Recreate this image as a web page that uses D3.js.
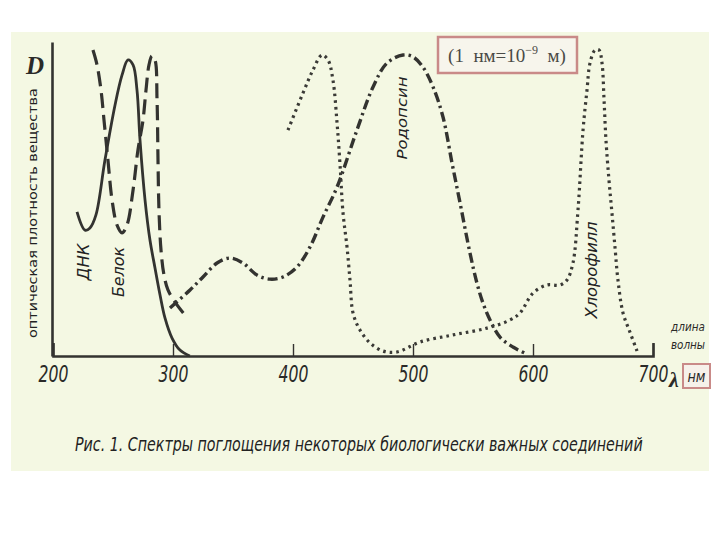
<!DOCTYPE html>
<html><head><meta charset="utf-8">
<script src="https://cdn.jsdelivr.net/npm/d3@7"></script>
<style>
html,body{margin:0;padding:0;background:#fff;}
svg{display:block;}
</style></head>
<body>
<script>
// ---- data (wavelength in nm, optical density in relative units) ----
const xTicks = [200, 300, 400, 500, 600, 700];

const dnaWavelength = [220, 226.7, 230.8, 235.8, 243.3, 251.7, 257.5, 262.5, 266.7, 270, 272.5, 276.7, 280.8, 285, 289.2, 293.3, 299.2, 305.8, 314];
const dnaDensity    = [0.465, 0.406, 0.413, 0.455, 0.632, 0.81, 0.906, 0.955, 0.939, 0.858, 0.697, 0.503, 0.374, 0.284, 0.197, 0.123, 0.058, 0.019, 0];

const proteinWavelength = [233.3, 236.7, 240, 242.5, 245.8, 249.2, 253.3, 257.5, 261.7, 266.7, 270.8, 275, 277.5, 280, 282.5, 285, 286.7, 287.5, 288.3, 290, 292.5, 295.8, 301.7, 310];
const proteinDensity    = [0.987, 0.939, 0.858, 0.761, 0.632, 0.503, 0.423, 0.397, 0.423, 0.535, 0.665, 0.761, 0.858, 0.939, 0.968, 0.955, 0.826, 0.632, 0.471, 0.342, 0.261, 0.213, 0.174, 0.132];

const rhodopsinWavelength = [297.5, 314.2, 325, 336.7, 347.5, 358.3, 370, 380.8, 391.7, 403.3, 414.2, 425, 436.7, 453.3, 466.7, 478.3, 491.7, 500, 508.3, 516.7, 525, 532.5, 539.2, 547.5, 553.3, 558.3, 564.2, 572.5, 583.3, 595];
const rhodopsinDensity    = [0.155, 0.213, 0.255, 0.3, 0.316, 0.3, 0.261, 0.248, 0.255, 0.287, 0.352, 0.448, 0.545, 0.729, 0.868, 0.945, 0.971, 0.965, 0.932, 0.868, 0.771, 0.623, 0.494, 0.332, 0.235, 0.171, 0.116, 0.061, 0.029, 0.006];

const chlorophyllWavelength = [395.8, 408.3, 416.7, 424.2, 429.2, 433.3, 436.7, 439.2, 441.7, 445, 447.5, 450, 455.8, 464.2, 475, 486.7, 505.8, 533.3, 561.7, 580.8, 589.2, 600, 611.7, 622.5, 628.3, 633.3, 637.5, 641.7, 645, 647.5, 651.7, 655, 657.5, 659.2, 660.8, 663.3, 665.8, 668.3, 670.8, 675, 680.8, 686.7];
const chlorophyllDensity    = [0.729, 0.848, 0.923, 0.971, 0.955, 0.89, 0.752, 0.616, 0.461, 0.352, 0.245, 0.139, 0.084, 0.042, 0.016, 0.013, 0.045, 0.068, 0.09, 0.116, 0.139, 0.203, 0.229, 0.229, 0.245, 0.3, 0.471, 0.729, 0.858, 0.945, 0.987, 0.987, 0.945, 0.826, 0.697, 0.568, 0.461, 0.352, 0.245, 0.139, 0.077, 0.016];

const curveLabels = ["ДНК", "Белок", "Родопсин", "Хлорофилл"];
const yTitle = "оптическая плотность вещества";
const captionText = "Рис. 1.  Спектры поглощения некоторых биологически важных соединений";

// ---- drawing ----
const W = 720, H = 540;
const ink = "#333330";
const svg = d3.select("body").append("svg").attr("width", W).attr("height", H);

svg.append("rect").attr("x", 11).attr("y", 32).attr("width", 698).attr("height", 439).attr("fill", "#f4f8e3");

const x = d3.scaleLinear().domain([200, 700]).range([53, 653]);
const y = d3.scaleLinear().domain([0, 1.013]).range([356, 42]);

const sans = "'DejaVu Sans','Liberation Sans',sans-serif";

// axes
const xAxis = d3.axisBottom(x).tickValues(xTicks).tickSizeInner(-12).tickSizeOuter(-13).tickPadding(9).tickFormat(d3.format("d"));
const gx = svg.append("g").attr("transform", `translate(0,${y(0)})`).call(xAxis);
gx.select(".domain").attr("stroke", ink).attr("stroke-width", 2.6);
gx.selectAll(".tick line").attr("stroke", ink).attr("stroke-width", 1.4);
gx.selectAll(".tick text").attr("font-family", sans).attr("font-style", "italic").attr("font-size", 23)
  .attr("fill", "#2a2a28").attr("dy", "0.75em").attr("transform", "scale(0.68,1)");

const yAxis = d3.axisLeft(y).tickValues([]).tickSizeOuter(0);
const gy = svg.append("g").attr("transform", `translate(${x(200) - 1},0)`).call(yAxis);
gy.select(".domain").attr("stroke", ink).attr("stroke-width", 2.6);

// curves
const line = d3.line().x(d => x(d[0])).y(d => y(d[1])).curve(d3.curveCatmullRom.alpha(0.5));
function series(w, v) { return w.map((d, i) => [d, v[i]]); }

svg.append("path").datum(series(dnaWavelength, dnaDensity)).attr("d", line)
  .attr("fill", "none").attr("stroke", ink).attr("stroke-width", 2.8);
svg.append("path").datum(series(proteinWavelength, proteinDensity)).attr("d", line)
  .attr("fill", "none").attr("stroke", ink).attr("stroke-width", 3.2).attr("stroke-dasharray", "15,7");
svg.append("path").datum(series(rhodopsinWavelength, rhodopsinDensity)).attr("d", line)
  .attr("fill", "none").attr("stroke", ink).attr("stroke-width", 3.4).attr("stroke-dasharray", "10,4,2.5,4");
svg.append("path").datum(series(chlorophyllWavelength, chlorophyllDensity)).attr("d", line)
  .attr("fill", "none").attr("stroke", "#3a3a36").attr("stroke-width", 3.2).attr("stroke-dasharray", "2.6,4");

// rotated labels
function vlabel(txt, cx, cy, size, opts) {
  const t = svg.append("text").attr("transform", `translate(${cx},${cy}) rotate(-90)`)
    .attr("text-anchor", "middle").attr("dy", "0.35em")
    .attr("font-family", sans).attr("font-size", size)
    .attr("fill", "#222").text(txt);
  if (opts && opts.italic) t.attr("font-style", "italic");
  if (opts && opts.len) t.attr("textLength", opts.len).attr("lengthAdjust", "spacingAndGlyphs");
  return t;
}
vlabel(yTitle, 33, 213, 12.5, {len: 250});
vlabel(curveLabels[0], 84, 262, 15, {italic: true, len: 37});
vlabel(curveLabels[1], 119, 272, 15, {italic: true, len: 50});
vlabel(curveLabels[2], 402, 118, 14, {italic: true, len: 83});
vlabel(curveLabels[3], 592, 270, 15, {italic: true, len: 97});

// D label
svg.append("text").attr("x", 35).attr("y", 74).attr("text-anchor", "middle")
  .attr("font-family", "'Liberation Serif','DejaVu Serif',serif").attr("font-style", "italic").attr("font-weight", "bold")
  .attr("font-size", 25).attr("fill", "#2a2a28").text("D");

// condensed text helper (scaled horizontally about its anchor)
function ctext(txt, px, py, size, sx, anchor) {
  return svg.append("text").attr("transform", `translate(${px},${py}) scale(${sx},1)`)
    .attr("text-anchor", anchor || "middle").attr("font-family", sans).attr("font-style", "italic")
    .attr("font-size", size).attr("fill", "#2a2a28").text(txt);
}
ctext("длина", 688, 331, 13, 0.8);
ctext("волны", 688, 349, 13, 0.8);

// lambda + boxed unit
svg.append("text").attr("x", 674).attr("y", 387).attr("text-anchor", "middle")
  .attr("font-family", "'Liberation Serif','DejaVu Serif',serif").attr("font-style", "italic").attr("font-weight", "bold")
  .attr("font-size", 22).attr("fill", "#2a2a28").text("λ");
svg.append("rect").attr("x", 683).attr("y", 364).attr("width", 27).attr("height", 24)
  .attr("fill", "#f6f1ea").attr("stroke", "#c98a88").attr("stroke-width", 2);
ctext("нм", 696.5, 382, 16, 0.8);

// unit note box
svg.append("rect").attr("x", 438).attr("y", 37).attr("width", 139).attr("height", 36)
  .attr("fill", "#f7f5ec").attr("stroke", "#c98a88").attr("stroke-width", 2.5);
const note = svg.append("text").attr("x", 507).attr("y", 62).attr("text-anchor", "middle")
  .attr("font-family", "'Liberation Serif','DejaVu Serif',serif").attr("font-size", 19).attr("fill", "#4a4a46")
  .attr("xml:space", "preserve");
note.append("tspan").text("(1  нм=10");
note.append("tspan").attr("font-size", 12).attr("dy", -8).text("−9");
note.append("tspan").attr("dy", 8).text("  м)");

// caption, condensed to the reference width
const cap = svg.append("text").attr("font-family", sans).attr("font-style", "italic")
  .attr("font-size", 19).attr("fill", "#222").text(captionText);
const natural = cap.node().getComputedTextLength();
cap.attr("transform", `translate(75,451) scale(${568 / natural},1)`);
</script>
</body></html>
